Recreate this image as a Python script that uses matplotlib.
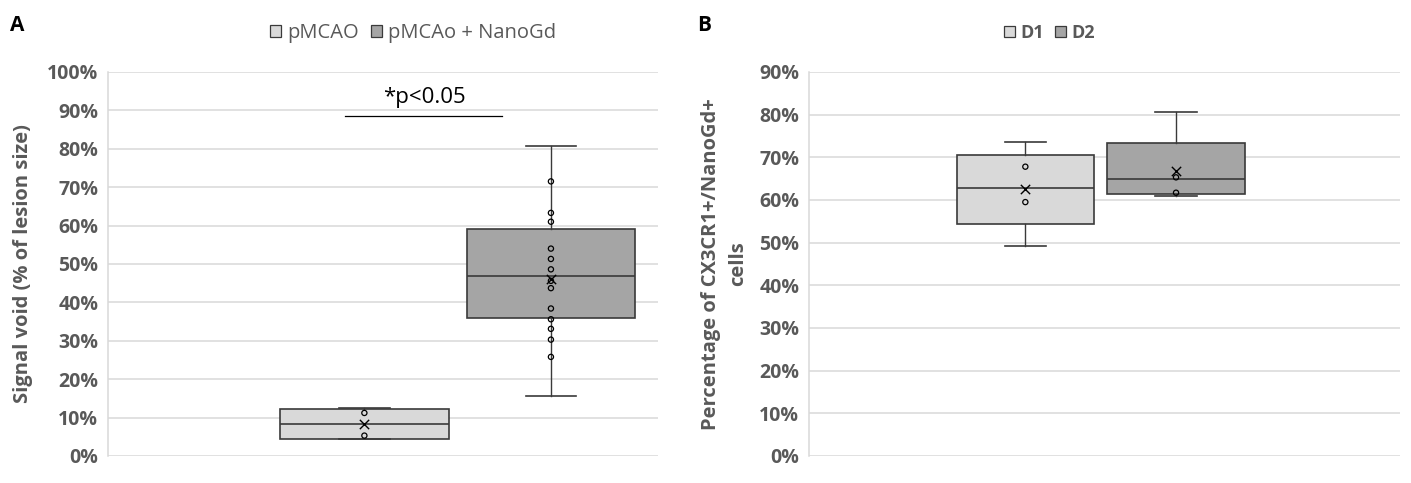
import matplotlib
matplotlib.use('Agg')
import matplotlib.pyplot as plt
from matplotlib.patches import Patch
from matplotlib.ticker import PercentFormatter

plt.rcParams['font.family'] = ['Open Sans', 'DejaVu Sans']

# --- Panel A data (in %) ---
a_labels = ['pMCAO', 'pMCAo + NanoGd']
a_q1 = [4.5, 35.8]
a_median = [8.2, 46.9]
a_q3 = [12.2, 59.2]
a_whislo = [4.3, 15.7]
a_whishi = [12.5, 80.8]
a_mean = [8.2, 46.2]
a_points = [[11.2, 5.3],
            [71.5, 63.3, 61.0, 54.0, 51.3, 48.6, 45.6, 43.7, 38.4, 35.6, 33.1, 30.3, 25.8]]

# --- Panel B data ---
b_labels = ['D1', 'D2']
b_q1 = [54.4, 61.4]
b_median = [62.7, 65.0]
b_q3 = [70.6, 73.3]
b_whislo = [49.3, 61.0]
b_whishi = [73.5, 80.6]
b_mean = [62.6, 66.8]
b_points = [[67.8, 59.5], [65.3, 61.7]]

fills = ['#D9D9D9', '#A5A5A5']
edge = '#3A3A3A'
grey_txt = '#595959'
grid_c = '#D9D9D9'


def draw_panel(ax, q1, med, q3, lo, hi, mean, pts, pos, width, ymax):
    stats = []
    for i in range(len(q1)):
        stats.append({'q1': q1[i], 'med': med[i], 'q3': q3[i],
                      'whislo': lo[i], 'whishi': hi[i], 'mean': mean[i], 'fliers': []})
    bp = ax.bxp(stats, positions=pos, widths=width, patch_artist=True,
                showmeans=False, showfliers=False, manage_ticks=False,
                boxprops=dict(edgecolor=edge, linewidth=1.2),
                medianprops=dict(color=edge, linewidth=1.2),
                whiskerprops=dict(color=edge, linewidth=1.0),
                capprops=dict(color=edge, linewidth=1.2),
                capwidths=width * 0.3)
    for patch, c in zip(bp['boxes'], fills):
        patch.set_facecolor(c)
    for i in range(len(q1)):
        ax.scatter([pos[i]] * len(pts[i]), pts[i], s=14, facecolors='none',
                   edgecolors='black', linewidths=0.9, zorder=4)
        ax.scatter([pos[i]], [mean[i]], marker='x', s=45, color='black',
                    linewidths=1.0, zorder=5)
    ax.set_xlim(0, 1)
    ax.set_ylim(0, ymax)
    ax.set_yticks(range(0, ymax + 1, 10))
    ax.yaxis.set_major_formatter(PercentFormatter(decimals=0))
    ax.grid(axis='y', color=grid_c, linewidth=1.1)
    ax.set_axisbelow(True)
    ax.set_xticks([])
    for s in ['top', 'right', 'bottom']:
        ax.spines[s].set_visible(False)
    ax.spines['left'].set_color(grid_c)
    ax.spines['left'].set_linewidth(1.1)
    ax.tick_params(axis='y', length=0, pad=7, labelsize=14, labelcolor=grey_txt)
    for t in ax.get_yticklabels():
        t.set_fontweight('bold')


fig = plt.figure(figsize=(14.11, 4.83), dpi=100)
ax1 = fig.add_axes([0.0765, 0.056, 0.39, 0.795])
ax2 = fig.add_axes([0.5734, 0.056, 0.4188, 0.795])

draw_panel(ax1, a_q1, a_median, a_q3, a_whislo, a_whishi, a_mean, a_points,
           [0.466, 0.805], 0.306, 100)
draw_panel(ax2, b_q1, b_median, b_q3, b_whislo, b_whishi, b_mean, b_points,
           [0.366, 0.621], 0.232, 90)

# significance bar
ax1.plot([0.431, 0.716], [88.5, 88.5], color='black', linewidth=0.9)
ax1.text(0.575, 92.0, '*p<0.05', ha='center', va='baseline', fontsize=16, color='black')

ax1.set_ylabel('Signal void (% of lesion size)', fontsize=14.5, fontweight='bold',
               color=grey_txt)
ax1.yaxis.set_label_coords(-0.137, 0.5)
ax2.set_ylabel('Percentage of CX3CR1+/NanoGd+\ncells', fontsize=14.5, fontweight='bold',
               color=grey_txt, linespacing=1.45)
ax2.yaxis.set_label_coords(-0.103, 0.5)

hA = [Patch(facecolor=c, edgecolor=edge, linewidth=0.9) for c in fills]
fig.legend(hA, a_labels, loc='center', bbox_to_anchor=(0.293, 0.932), ncol=2,
           frameon=False, fontsize=14.5, handlelength=0.55, handleheight=0.55,
           handletextpad=0.3, columnspacing=0.6, labelcolor=grey_txt)
hB = [Patch(facecolor=c, edgecolor=edge, linewidth=0.9) for c in fills]
legB = fig.legend(hB, b_labels, loc='center', bbox_to_anchor=(0.744, 0.932), ncol=2,
                  frameon=False, fontsize=13, handlelength=0.6, handleheight=0.6,
                  handletextpad=0.3, columnspacing=0.6, labelcolor=grey_txt)
for t in legB.get_texts():
    t.set_fontweight('bold')

fig.text(0.007, 0.948, 'A', fontsize=15, fontweight='bold', va='center')
fig.text(0.494, 0.948, 'B', fontsize=15, fontweight='bold', va='center')

fig.savefig('out.png', dpi=100)
